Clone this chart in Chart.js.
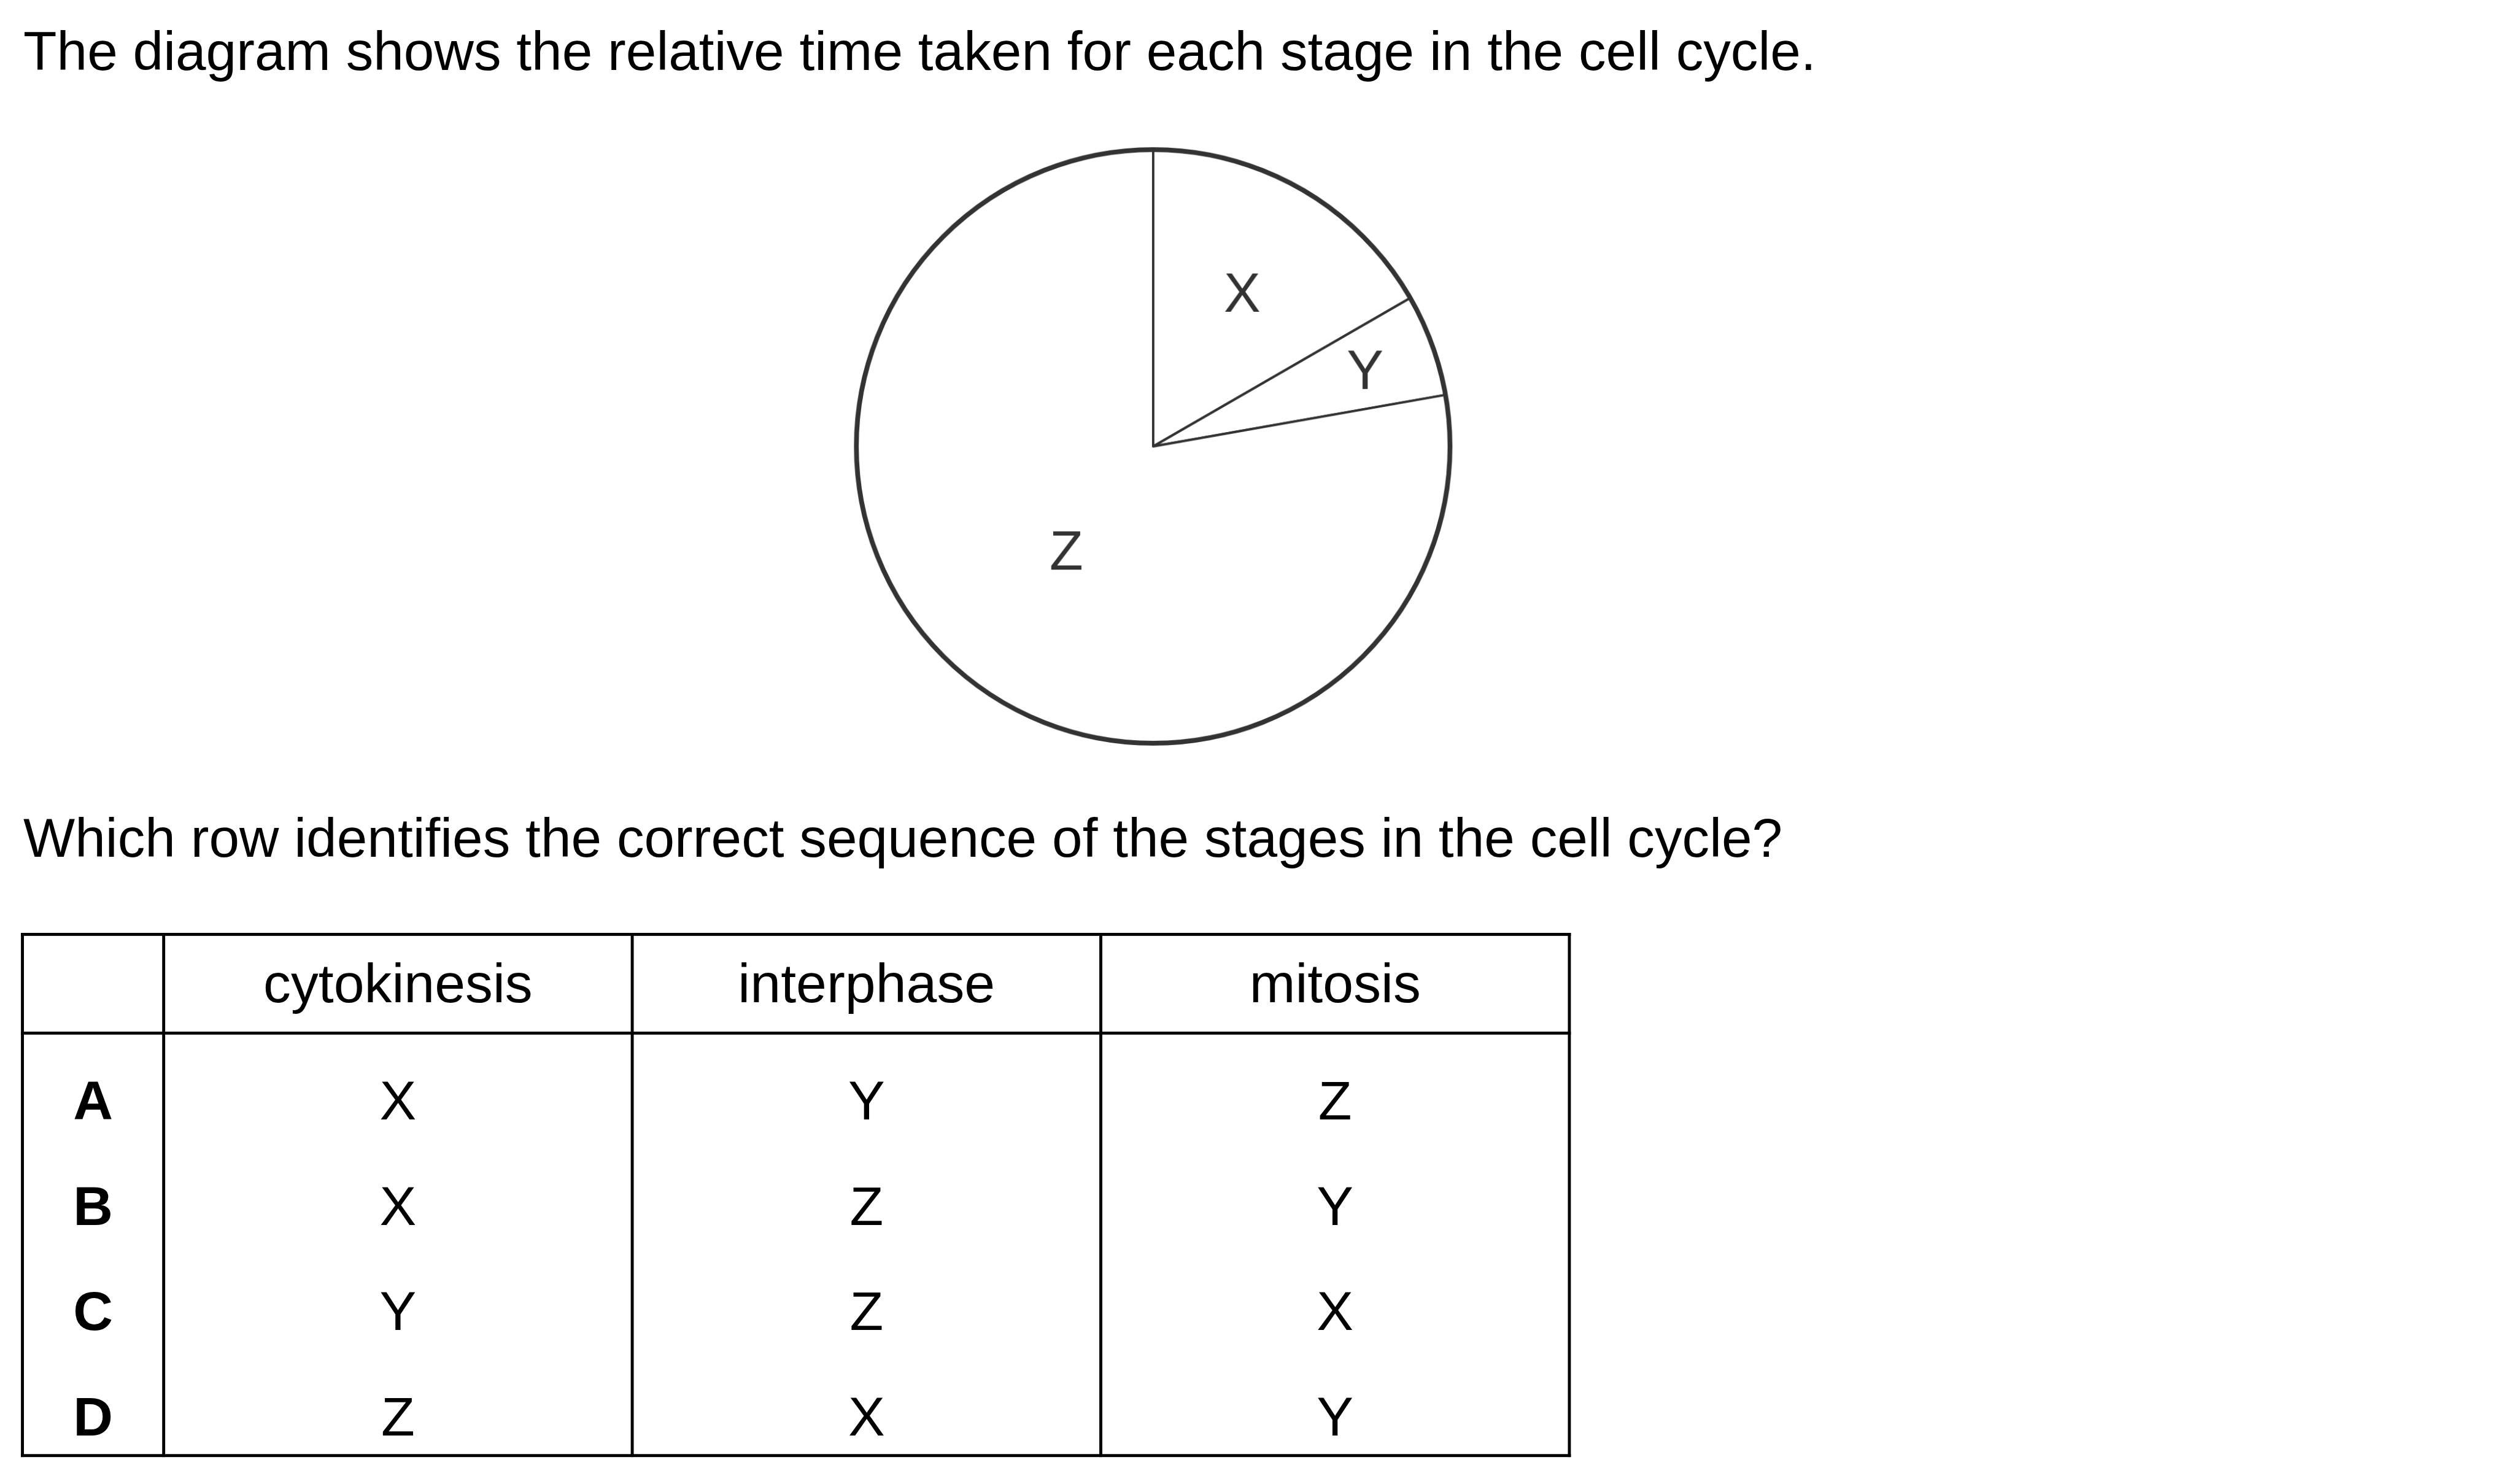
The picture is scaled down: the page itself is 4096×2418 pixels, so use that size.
<!DOCTYPE html>
<html>
<head>
<meta charset="utf-8">
<script src="https://cdn.jsdelivr.net/npm/chart.js@4.4.0/dist/chart.umd.min.js"></script>
<style>
  html, body { margin: 0; padding: 0; background: #fff; overflow: hidden; }
  #page {
    position: absolute; left: 0; top: 0;
    width: 4201px; height: 2480px;
    transform: scale(0.975); transform-origin: 0 0;
    font-family: "Liberation Sans", Arial, sans-serif; color: #000;
  }
  .txt { position: absolute; font-size: 92px; line-height: 92px; white-space: nowrap; }
  .lead { font-size: 91.5px; }
  .cell { text-align: center; }
  .bold { font-weight: bold; }
  .line { position: absolute; background: #000; }
  #pieBox { position: absolute; left: 1377px; top: 196px; width: 1100px; height: 1100px; }
</style>
</head>
<body>
<div id="page">
  <div class="txt lead" style="left:39px; top:39px;">The diagram shows the relative time taken for each stage in the cell cycle.</div>
  <div id="pieBox"><canvas id="cycle-chart" width="1100" height="1100"></canvas></div>
  <div class="txt lead" style="left:39px; top:1354px;">Which row identifies the correct sequence of the stages in the cell cycle?</div>
  <div id="table"></div>
</div>
<script>
// relative time of each stage (in degrees)
const stageLabels = ['X', 'Y', 'Z'];
const stageTimes = [60, 20, 280];

// answer table
const stageColumns = ['cytokinesis', 'interphase', 'mitosis'];
const rowLetters = ['A', 'B', 'C', 'D'];
const rowCytokinesis = ['X', 'X', 'Y', 'Z'];
const rowInterphase = ['Y', 'Z', 'Z', 'X'];
const rowMitosis = ['Z', 'Y', 'X', 'Y'];

// where each wedge letter sits, as a share of the radius
const labelDistance = [0.6, 0.76, 0.455];

const ink = '#333';

const wedgeLabels = {
    id: 'wedgeLabels',
    afterDatasetsDraw(chart) {
        const ctx = chart.ctx;
        const arcs = chart.getDatasetMeta(0).data;
        if (!arcs.length) return;
        const first = arcs[0];

        // heavier outline round the whole pie
        ctx.save();
        ctx.beginPath();
        ctx.arc(first.x, first.y, first.outerRadius, 0, Math.PI * 2);
        ctx.lineWidth = 8;
        ctx.strokeStyle = ink;
        ctx.stroke();

        ctx.fillStyle = ink;
        ctx.font = '92px "Liberation Sans", Arial, sans-serif';
        ctx.textAlign = 'center';
        ctx.textBaseline = 'alphabetic';
        arcs.forEach((arc, i) => {
            const mid = (arc.startAngle + arc.endAngle) / 2;
            const r = arc.outerRadius * labelDistance[i];
            const x = arc.x + Math.cos(mid) * r;
            const y = arc.y + Math.sin(mid) * r;
            ctx.fillText(stageLabels[i], x, y + 33);
        });
        ctx.restore();
    }
};

new Chart(document.getElementById('cycle-chart'), {
    type: 'pie',
    data: {
        labels: stageLabels,
        datasets: [{
            data: stageTimes,
            backgroundColor: '#fff',
            borderColor: ink,
            borderWidth: 4,
            borderJoinStyle: 'round',
            hoverOffset: 0
        }]
    },
    options: {
        responsive: false,
        animation: false,
        radius: 496,
        layout: { padding: 0 },
        plugins: {
            legend: { display: false },
            tooltip: { enabled: false }
        }
    },
    plugins: [wedgeLabels]
});

// table
const table = document.getElementById('table');
const colEdges = [37.5, 273.5, 1056.5, 1839.5, 2622.5];
const rowEdges = [1561.5, 1726.5, 2432];
const headerBaseline = 1675;
const rowBaselines = [1871, 2047, 2223, 2399];
const lineW = 5;

function addLine(x, y, w, h) {
    const d = document.createElement('div');
    d.className = 'line';
    d.style.left = x + 'px';
    d.style.top = y + 'px';
    d.style.width = w + 'px';
    d.style.height = h + 'px';
    table.appendChild(d);
}

function addText(text, col, baseline, bold) {
    const d = document.createElement('div');
    d.className = 'txt cell' + (bold ? ' bold' : '');
    d.style.left = colEdges[col] + 'px';
    d.style.width = (colEdges[col + 1] - colEdges[col]) + 'px';
    d.style.top = (baseline - 78) + 'px';
    d.textContent = text;
    table.appendChild(d);
}

const left = colEdges[0], right = colEdges[colEdges.length - 1];
rowEdges.forEach(y => addLine(left - lineW / 2, y - lineW / 2, right - left + lineW, lineW));
colEdges.forEach(x => addLine(x - lineW / 2, rowEdges[0] - lineW / 2, lineW, rowEdges[2] - rowEdges[0] + lineW));

stageColumns.forEach((name, i) => addText(name, i + 1, headerBaseline, false));
rowLetters.forEach((letter, r) => {
    addText(letter, 0, rowBaselines[r], true);
    addText(rowCytokinesis[r], 1, rowBaselines[r], false);
    addText(rowInterphase[r], 2, rowBaselines[r], false);
    addText(rowMitosis[r], 3, rowBaselines[r], false);
});
</script>
</body>
</html>
